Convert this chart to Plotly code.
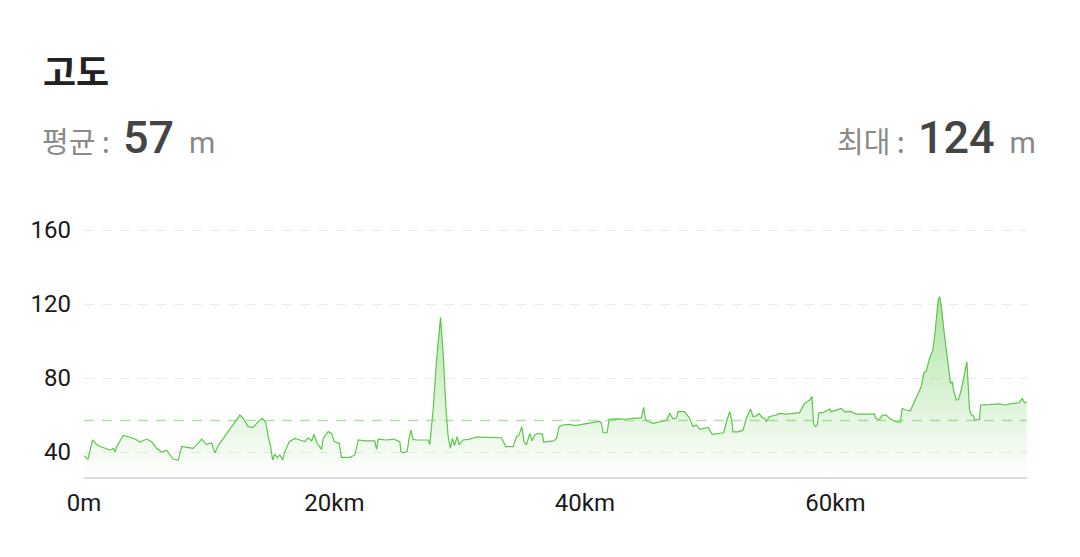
import plotly.graph_objects as go

# ---------------- data ----------------
distance_km = [
    0, 0.2, 0.32, 0.48, 0.69, 1.01, 1.28, 1.68, 2.08, 2.34, 2.47, 2.61, 3.14, 3.67, 4.07, 4.47,
    5.0, 5.4, 5.8, 6.2, 6.6, 6.86, 7.13, 7.53, 7.8, 8.2, 8.72, 9.39, 9.79, 10.19, 10.45, 10.72,
    10.99, 11.39, 11.79, 12.19, 12.45, 12.72, 13.11, 13.51, 13.91, 14.23, 14.52, 14.71, 14.9, 15.06,
    15.24, 15.43, 15.64, 15.86, 16.04, 16.39, 16.84, 17.24, 17.64, 17.9, 18.17, 18.36, 18.62, 18.97,
    19.1, 19.5, 19.77, 19.98, 20.38, 20.56, 21.23, 21.63, 21.9, 22.43, 23.22, 23.36, 23.49, 24.16,
    24.69, 25.22, 25.3, 25.48, 25.8, 25.96, 26.1, 26.28, 26.55, 27.48, 27.61, 27.88, 28.15, 28.47,
    28.68, 28.89, 29.08, 29.26, 29.42, 29.58, 29.8, 29.95, 30.27, 30.81, 31.34, 31.74, 32.67, 33.34,
    33.68, 34.27, 34.53, 34.74, 34.96, 35.14, 35.33, 35.6, 35.78, 35.99, 36.21, 36.61, 36.71, 37.19,
    37.51, 37.73, 37.94, 38.2, 38.79, 39.19, 40.38, 41.18, 41.32, 41.45, 41.77, 41.93, 42.51, 43.31,
    43.71, 44.51, 44.69, 44.85, 45.04, 45.44, 46.1, 46.5, 46.77, 47.03, 47.3, 47.43, 47.96, 48.18,
    48.36, 48.63, 48.9, 49.16, 49.83, 50.17, 50.76, 51.08, 51.34, 51.56, 51.72, 51.82, 52.22, 52.62,
    52.89, 53.1, 53.23, 53.42, 53.69, 53.9, 54.09, 54.35, 54.49, 54.7, 55.28, 55.55, 56.08, 56.61,
    57.14, 57.54, 57.94, 58.13, 58.26, 58.39, 58.55, 58.68, 59.0, 59.14, 59.54, 59.67, 60.33, 60.47,
    60.73, 61.27, 61.67, 62.47, 63.13, 63.21, 63.53, 63.74, 64.06, 64.33, 64.64, 64.99, 65.18, 65.34,
    65.6, 65.98, 66.19, 66.59, 66.85, 67.07, 67.25, 67.52, 67.78, 67.92, 68.05, 68.21, 68.32, 68.45,
    68.66, 68.85, 69.03, 69.19, 69.33, 69.43, 69.65, 69.83, 70.05, 70.31, 70.5, 70.61, 70.71, 70.87,
    71.03, 71.14, 71.51, 71.59, 71.91, 72.31, 73.1, 73.5, 74.17, 74.7, 74.92, 75.1, 75.28,
]
elevation_m = [
    38, 37, 36, 41, 46.5, 44, 43, 42, 41, 42, 40, 43, 49, 48, 47, 45.4,
    47, 45.5, 42, 40, 41, 38.4, 36.2, 35.6, 43, 42.5, 42, 47, 44, 45, 39.5, 43.5,
    46, 50, 53.5, 57, 60, 58.2, 53.7, 53.3, 56.4, 58.2, 55.8, 48.3, 42.9, 35.7,
    38.9, 36.9, 38.4, 35.7, 40.2, 45.6, 47.3, 46.5, 45.6, 47.7, 46, 49.6, 44.7, 41.4,
    47.3, 51, 50, 45.6, 44.7, 37.1, 37.1, 38.4, 46.5, 46, 46, 41.4, 47, 46.5,
    47, 45.6, 40.2, 39.6, 40.2, 47.4, 51.9, 46.8, 46.5, 46.5, 44.1, 62.7, 89.7, 112.8,
    93.4, 64.5, 48.3, 42, 47.4, 43.5, 48.3, 43.9, 46.5, 47, 48.1, 48, 47.7, 47.7,
    42.9, 42.9, 48.3, 49.2, 53.7, 45.6, 43.9, 50, 46, 49.2, 50, 49.7, 45.4, 45.6,
    46, 47.4, 53.7, 54.6, 54.9, 54.3, 55.5, 56.5, 55.5, 50.4, 50.4, 57.7, 57.9, 57.7,
    58.2, 58.4, 64.1, 57.4, 56.5, 55.5, 56.5, 57, 60.9, 57.9, 58.2, 61.8, 61.8, 60,
    58.2, 53.7, 54.6, 52.3, 53.3, 49.5, 50, 50.4, 57.3, 61.8, 57.3, 50.9, 50.9, 51.8,
    58.2, 60.9, 63.2, 59.1, 59.5, 60.9, 59.1, 58.2, 56.4, 59.1, 60, 60.9, 60.5, 60.9,
    61.3, 66.3, 68.1, 69.9, 55.5, 53.7, 54.6, 61.3, 61.3, 61.8, 63.2, 61.8, 63.1, 63.6,
    61.8, 61.8, 60.5, 60.5, 60.5, 58.2, 57.5, 59.8, 60, 58.2, 56.9, 56.1, 56.1, 63.6,
    62.7, 62.3, 65.4, 70.8, 75.3, 82.9, 83.6, 90.6, 95.1, 102.3, 113.1, 122.2, 124, 119.5,
    106, 95.1, 85.2, 77.1, 78, 73.5, 68.1, 68.4, 73.5, 81.6, 88.8, 75.3, 62.7, 60,
    59.5, 57.3, 57.6, 65.4, 65.4, 65.6, 66, 65.4, 66.3, 66.6, 69, 66.6, 67,
]
avg_elevation = 57
max_elevation = 124
y_tick_values = [40, 80, 120, 160]
x_tick_values = [0, 20, 40, 60]
x_tick_labels = ["0m", "20km", "40km", "60km"]
title_text = "고도"
avg_label = "평균"
max_label = "최대"
unit_label = "m"

# ---------------- layout geometry ----------------
# the page body adds an 8px offset, so the figure is 8px smaller and shifted
OFF = 8
W, H = 1080 - OFF, 557 - OFF
PLOT_L, PLOT_R, PLOT_T, PLOT_B = 84, 1027.5, 224, 477   # screen pixels
ML, MR = PLOT_L - OFF, W - (PLOT_R - OFF)
MT, MB = PLOT_T - OFF, H - (PLOT_B - OFF)
PW, PH = PLOT_R - PLOT_L, PLOT_B - PLOT_T
PX_PER_M = 1.85               # 74 px per 40 m in the reference


def px(x):
    return (x - PLOT_L) / PW


def py(y):
    return (PLOT_B - y) / PH


KR = "Noto Sans CJK KR, Noto Sans, sans-serif"
NUM = "Roboto, Noto Sans, sans-serif"
green = "rgb(92,198,74)"

fig = go.Figure()
fig.add_trace(go.Scatter(
    x=distance_km, y=elevation_m, mode="lines",
    line=dict(color=green, width=1.2),
    fill="tozeroy",
    fillgradient=dict(
        type="vertical",
        start=26.5, stop=128,
        colorscale=[[0, "rgba(110,205,90,0.0)"], [1, "rgba(110,205,90,0.58)"]],
    ),
    hoverinfo="skip", showlegend=False,
))

# average dashed line
fig.add_shape(type="line", xref="paper", yref="y", x0=0, x1=1,
              y0=avg_elevation, y1=avg_elevation,
              line=dict(color="rgba(110,205,95,0.55)", width=1.5, dash="10px,8px"),
              layer="above")


def stat_text(label, value):
    return (f"<span style='font-family:{KR};font-size:29px;color:#8a8a8a'>{label}&nbsp;:&nbsp;&nbsp;</span>"
            f"<span style='font-family:{NUM};font-size:45px;font-weight:500;color:#444444'>{value}</span>"
            f"<span style='font-family:{NUM};font-size:30px;color:#8a8a8a'>&nbsp;&nbsp;{unit_label}</span>")


fig.add_annotation(
    x=px(41), y=py(70), xref="paper", yref="paper", xanchor="left", yanchor="middle",
    text=f"<b>{title_text}</b>", showarrow=False,
    font=dict(family=KR, size=36, color="#222222"),
)
fig.add_annotation(
    x=px(40), y=py(137), xref="paper", yref="paper", xanchor="left", yanchor="middle",
    text=stat_text(avg_label, avg_elevation),
    showarrow=False, font=dict(family=NUM, size=30, color="#8a8a8a"),
)
fig.add_annotation(
    x=px(1039), y=py(137), xref="paper", yref="paper", xanchor="right", yanchor="middle",
    text=stat_text(max_label, max_elevation),
    showarrow=False, font=dict(family=NUM, size=30, color="#8a8a8a"),
)

y_bottom = 40 - (PLOT_B - 452) / PX_PER_M
y_top = 160 + (230 - PLOT_T) / PX_PER_M
fig.update_layout(
    width=W, height=H,
    margin=dict(l=ML, r=MR, t=MT, b=MB, pad=0),
    paper_bgcolor="white", plot_bgcolor="rgba(0,0,0,0)",
    showlegend=False,
    xaxis=dict(
        range=[0, 75.3], tickvals=x_tick_values, ticktext=x_tick_labels,
        showgrid=False, zeroline=False, showline=True, linecolor="#dcdcdc", linewidth=1.5,
        ticks="", ticklabelstandoff=3,
        tickfont=dict(family=NUM, size=24, color="#1a1a1a"),
    ),
    yaxis=dict(
        range=[y_bottom, y_top], tickvals=y_tick_values,
        showgrid=True, gridcolor="#ebebeb", gridwidth=1, griddash="10px,8px",
        zeroline=False, showline=False, ticks="", ticklabelstandoff=12,
        tickfont=dict(family=NUM, size=24, color="#1a1a1a"),
    ),
)

fig.write_html("out.html")
